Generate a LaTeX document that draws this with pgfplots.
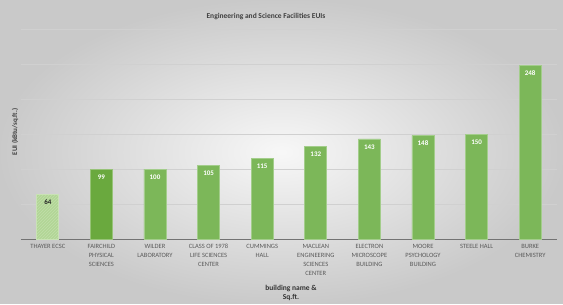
\documentclass[border=0pt]{standalone}
\usepackage{pgfplots}
\pgfplotsset{compat=1.18}
\usepackage{fontspec}
\setmainfont{Carlito}
\usetikzlibrary{patterns}
\definecolor{barmain}{RGB}{124,183,89}
\definecolor{bardark}{RGB}{106,169,62}
\definecolor{barlight}{RGB}{178,214,150}
\definecolor{txtgray}{RGB}{89,89,89}
\definecolor{gridgray}{RGB}{208,208,208}
\begin{document}
\begin{tikzpicture}
\shade[inner color=white!97!black, outer color=white!79!black] (0,0) rectangle (563pt,304pt);
\begin{axis}[
  at={(21pt,65pt)}, anchor=south west,
  width=536pt, height=210pt, scale only axis,
  xmin=-0.5, xmax=9.5, ymin=0, ymax=300,
  axis x line=bottom, axis y line=left,
  x axis line style={draw=black!55, -, line width=0.8pt},
  y axis line style={draw=none},
  ytick={0,50,...,300}, yticklabels={},
  major tick length=0pt,
  ymajorgrids, grid style={gridgray, line width=0.6pt},
  xtick={0,...,9},
  xticklabels={THAYER ECSC, FAIRCHILD\\PHYSICAL\\SCIENCES, WILDER\\LABORATORY, CLASS OF 1978\\LIFE SCIENCES\\CENTER, CUMMINGS\\HALL, MACLEAN\\ENGINEERING\\SCIENCES\\CENTER, ELECTRON\\MICROSCOPE\\BUILDING, MOORE\\PSYCHOLOGY\\BUILDING, STEELE HALL, BURKE\\CHEMISTRY},
  x tick label style={align=center, font=\fontsize{6.5}{9.2}\selectfont, text=txtgray, yshift=-1.5pt},
  /pgf/number format/assume math mode=true,
  ybar, bar width=22pt,
  nodes near coords,
  every node near coord/.append style={font=\fontsize{7}{8}\selectfont\bfseries, anchor=north, yshift=-2pt},
  clip=false,
]
\addplot[ybar, bar shift=0pt, fill=barlight, draw=barlight!70!white, line width=0.6pt,
  postaction={pattern=north east lines, pattern color=white!25!barlight},
  every node near coord/.append style={text=black!85}]
  coordinates {(0,64)};
\addplot[ybar, bar shift=0pt, fill=bardark, draw=bardark!70!white, line width=0.6pt,
  every node near coord/.append style={text=white}]
  coordinates {(1,99)};
\addplot[ybar, bar shift=0pt, fill=barmain, draw=barmain!70!white, line width=0.6pt,
  every node near coord/.append style={text=white}]
  coordinates {(2,100) (3,105) (4,115) (5,132) (6,143) (7,148) (8,150) (9,248)};
\end{axis}
\node[font=\fontsize{7.5}{8}\selectfont\bfseries, text=black!75] at (266pt,287pt) {Engineering and Science Facilities EUIs};
\node[rotate=90, font=\fontsize{7}{8}\selectfont\bfseries, text=black!75] at (15pt,172pt) {EUI (kBtu/sq.ft.)};
\node[align=center, font=\fontsize{7.5}{9}\selectfont\bfseries, text=black!80] at (291pt,11pt) {building name \&\\Sq.ft.};
\end{tikzpicture}
\end{document}
